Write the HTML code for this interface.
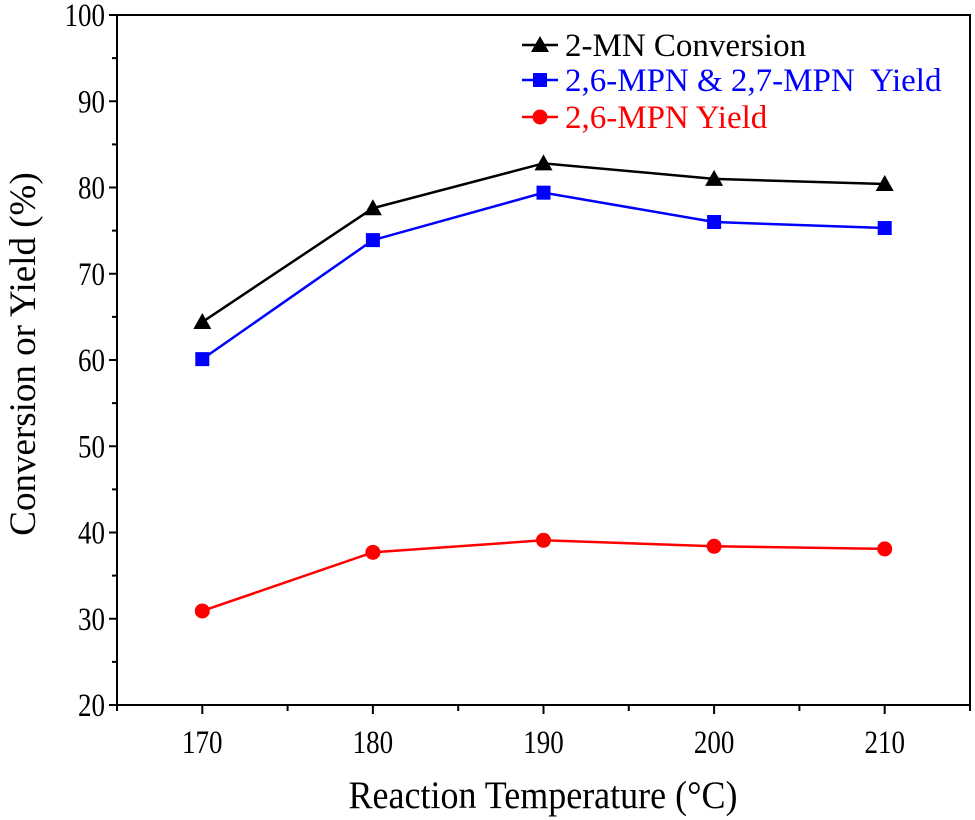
<!DOCTYPE html>
<html><head><meta charset="utf-8"><style>
body{margin:0;background:#fff}
svg{display:block;font-family:"Liberation Serif",serif}
</style></head><body>
<svg id="chart" width="975" height="820"></svg>
<script>
const categories=[170,180,190,200,210];
const conversion=[64.4,77.6,82.8,81.0,80.4];
const yieldBoth=[60.1,73.9,79.4,76.0,75.3];
const yield26=[30.9,37.7,39.1,38.4,38.1];
const yTicks=[20,30,40,50,60,70,80,90,100];
const xTicks=[170,180,190,200,210];
const NS="http://www.w3.org/2000/svg";
const svg=document.getElementById('chart');
const L=117,R=970,T=15,B=705;
const X=v=>L+(v-165)/50*(R-L);
const Y=v=>B-(v-20)/80*(B-T);
function el(t,a,p){const e=document.createElementNS(NS,t);for(const k in a)e.setAttribute(k,a[k]);(p||svg).appendChild(e);return e;}
const frame=el('rect',{x:L,y:T,width:R-L,height:B-T,fill:'none',stroke:'#000','stroke-width':2});


for(let v=20;v<=100;v+=5){const major=v%10===0;el('line',{x1:L,x2:L-(major?8:5),y1:Y(v),y2:Y(v),stroke:'#000','stroke-width':2});}
yTicks.forEach(v=>{const t=el('text',{'text-anchor':'end','font-size':27,transform:`translate(${L-12},${Y(v)+11}) scale(1,1.22)`});t.textContent=v;

});
for(let v=165;v<=215;v+=5){const major=v%10===0;el('line',{x1:X(v),x2:X(v),y1:B,y2:B+(major?9:6),stroke:'#000','stroke-width':2});}
xTicks.forEach(v=>{const t=el('text',{'text-anchor':'middle','font-size':27,transform:`translate(${X(v)},${B+48}) scale(1,1.22)`});t.textContent=v;

});
const xt=el('text',{'text-anchor':'middle','font-size':36,transform:'translate(543,808) scale(1,1.1)'});xt.textContent='Reaction Temperature (°C)';


const yt=el('text',{x:0,y:0,'text-anchor':'middle','font-size':37,transform:'translate(35,354) rotate(-90)'});yt.textContent='Conversion or Yield (%)';


function marker(shape,x,y,c,g){
 if(shape==='tri')return el('polygon',{points:`${x},${y-9} ${x-9},${y+7} ${x+9},${y+7}`,fill:c},g);
 if(shape==='sq')return el('rect',{x:x-7,y:y-7,width:14,height:14,fill:c},g);
 return el('circle',{cx:x,cy:y,r:7.5,fill:c},g);
}
const series=[[conversion,'#000','tri','series-2mn-conversion'],[yieldBoth,'#0000ff','sq','series-26-27-mpn-yield'],[yield26,'#ff0000','circ','series-26-mpn-yield']];
series.forEach(([vals,c,sh,name])=>{
 const g=el('g',{});
 
 
 el('polyline',{points:vals.map((v,i)=>X(categories[i])+','+Y(v)).join(' '),fill:'none',stroke:c,'stroke-width':2.5},g);
 vals.forEach((v,i)=>{const m=marker(sh,X(categories[i]),Y(v),c,g);
 
 });
});
const legend=[['2-MN Conversion','#000','tri',45],['2,6-MPN & 2,7-MPN  Yield','#0000ff','sq',80],['2,6-MPN Yield','#ff0000','circ',117]];
legend.forEach(([txt,c,sh,y])=>{
 const g=el('g',{});
 
 
 el('line',{x1:522,x2:558,y1:y,y2:y,stroke:c,'stroke-width':2.5},g);
 marker(sh,540,y,c,g);
 const t=el('text',{x:565,y:y+11,'font-size':33,fill:c},g);t.textContent=txt;t.style.whiteSpace='pre';
});
</script>
</body></html>
